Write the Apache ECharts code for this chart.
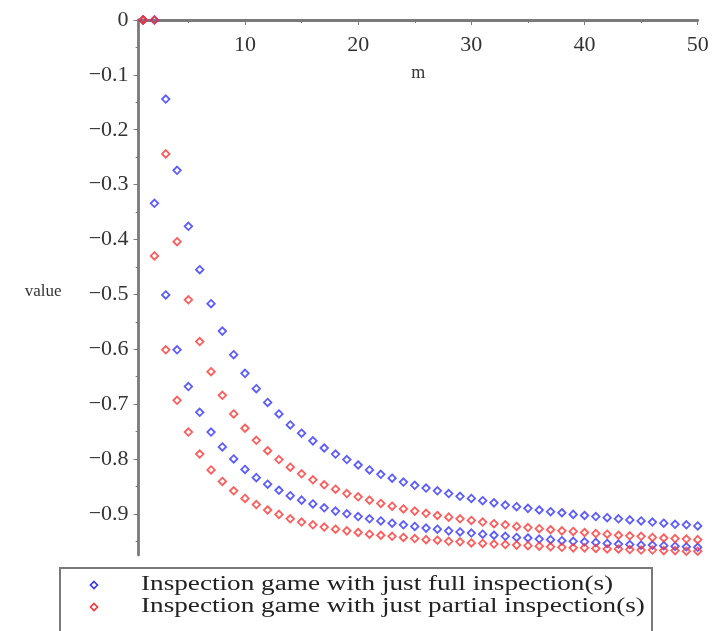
<!DOCTYPE html>
<html><head><meta charset="utf-8">
<script src="https://cdn.jsdelivr.net/npm/echarts@6/dist/echarts.min.js"></script>
<style>html,body{margin:0;padding:0;background:#fff}#c{width:714px;height:631px}</style>
</head><body><div id="c"></div>
<script>
const mValues = [1,2,3,4,5,6,7,8,9,10,11,12,13,14,15,16,17,18,19,20,21,22,23,24,25,26,27,28,29,30,31,32,33,34,35,36,37,38,39,40,41,42,43,44,45,46,47,48,49,50];
const blueUpper = [0,0,-0.144,-0.274,-0.376,-0.455,-0.517,-0.567,-0.610,-0.644,-0.672,-0.697,-0.718,-0.738,-0.753,-0.767,-0.780,-0.791,-0.801,-0.811,-0.820,-0.828,-0.835,-0.842,-0.848,-0.853,-0.858,-0.863,-0.868,-0.872,-0.876,-0.880,-0.884,-0.887,-0.890,-0.893,-0.896,-0.898,-0.901,-0.903,-0.905,-0.907,-0.909,-0.911,-0.913,-0.915,-0.917,-0.919,-0.920,-0.922];
const blueLower = [0,-0.334,-0.501,-0.601,-0.668,-0.715,-0.751,-0.778,-0.800,-0.819,-0.834,-0.846,-0.857,-0.867,-0.875,-0.882,-0.889,-0.895,-0.900,-0.905,-0.909,-0.913,-0.917,-0.920,-0.923,-0.926,-0.928,-0.931,-0.933,-0.935,-0.937,-0.939,-0.941,-0.943,-0.944,-0.946,-0.947,-0.949,-0.950,-0.951,-0.952,-0.954,-0.955,-0.956,-0.957,-0.957,-0.958,-0.959,-0.960,-0.961];
const redUpper = [0,0,-0.244,-0.404,-0.510,-0.586,-0.641,-0.684,-0.718,-0.744,-0.766,-0.785,-0.801,-0.815,-0.827,-0.838,-0.847,-0.855,-0.863,-0.869,-0.875,-0.881,-0.886,-0.891,-0.895,-0.899,-0.903,-0.906,-0.909,-0.912,-0.915,-0.918,-0.920,-0.923,-0.925,-0.927,-0.929,-0.931,-0.932,-0.934,-0.936,-0.937,-0.939,-0.940,-0.941,-0.943,-0.944,-0.945,-0.946,-0.947];
const redLower = [0,-0.430,-0.601,-0.693,-0.751,-0.791,-0.820,-0.841,-0.858,-0.872,-0.883,-0.893,-0.901,-0.909,-0.915,-0.920,-0.924,-0.928,-0.931,-0.934,-0.937,-0.939,-0.941,-0.943,-0.945,-0.947,-0.948,-0.950,-0.951,-0.953,-0.954,-0.955,-0.956,-0.957,-0.958,-0.959,-0.960,-0.961,-0.962,-0.962,-0.963,-0.964,-0.964,-0.965,-0.966,-0.966,-0.967,-0.967,-0.968,-0.968];
const xTicks = [10,20,30,40,50];
const xMinorTicks = [5,15,25,35,45];
const yTicks = [0,-0.1,-0.2,-0.3,-0.4,-0.5,-0.6,-0.7,-0.8,-0.9];
const yMinorTicks = [-0.05,-0.15,-0.25,-0.35,-0.45,-0.55,-0.65,-0.75,-0.85,-0.95];
const seriesNames = ['Inspection game with just full inspection(s)','Inspection game with just partial inspection(s)'];
const colors = ['#3333ff','#ff3333'];

const FONT = 'Liberation Serif';
const AX = '#7a7a7a';
const chart = echarts.init(document.getElementById('c'), null, {renderer:'canvas'});
function pts(ys){ return mValues.map((m,i)=>[m, ys[i]]); }
function sc(name, ys, color){
  return {type:'scatter', name, data:pts(ys), symbol:'diamond', symbolSize:7.5, clip:false,
    itemStyle:{color:'rgba(255,255,255,0)', borderColor:color, borderWidth:1.8},
    emphasis:{disabled:true}, z:3};
}
function fmtY(v){ return v===0 ? '0' : '\u2212' + Math.abs(v).toFixed(1); }
chart.setOption({
  animation:false,
  backgroundColor:'#fff',
  grid:{left:138.6, right:16.3, top:20, bottom:76, containLabel:false, outerBoundsMode:'none'},
  xAxis:[{
    type:'value', position:'top', min:0.6, max:50,
    axisLine:{show:true, onZero:false, lineStyle:{color:AX, width:2.8}},
    axisTick:{show:true, inside:true, length:5, customValues:xTicks, lineStyle:{color:AX, width:1}},
    axisLabel:{show:true, inside:true, margin:14, customValues:xTicks, fontFamily:FONT, fontSize:22, color:'#333'},
    splitLine:{show:false},
    name:'m', nameLocation:'middle', nameGap:-62, nameTextStyle:{fontFamily:FONT, fontSize:18, color:'#333'}
  },{
    type:'value', position:'top', min:0.6, max:50,
    axisLine:{show:false, onZero:false},
    axisTick:{show:true, inside:true, length:3, customValues:xMinorTicks, lineStyle:{color:AX, width:1}},
    axisLabel:{show:false}, splitLine:{show:false}
  }],
  yAxis:[{
    type:'value', position:'left', min:-0.975, max:0,
    axisLine:{show:true, onZero:false, lineStyle:{color:AX, width:2.8}},
    axisTick:{show:true, inside:false, length:5, customValues:yTicks, lineStyle:{color:AX, width:1}},
    axisLabel:{show:true, margin:10, customValues:yTicks, formatter:fmtY, fontFamily:FONT, fontSize:22, color:'#333'},
    splitLine:{show:false},
    name:'value', nameLocation:'middle', nameRotate:0, nameGap:77, nameTextStyle:{fontFamily:FONT, fontSize:17, color:'#333', verticalAlign:'top', lineHeight:9}
  },{
    type:'value', position:'left', min:-0.975, max:0,
    axisLine:{show:false, onZero:false},
    axisTick:{show:true, inside:false, length:3, customValues:yMinorTicks, lineStyle:{color:AX, width:1}},
    axisLabel:{show:false}, splitLine:{show:false}
  }],
  series:[
    sc(seriesNames[0], blueUpper, colors[0]),
    sc(seriesNames[0], blueLower, colors[0]),
    sc(seriesNames[1], redUpper, colors[1]),
    sc(seriesNames[1], redLower, colors[1])
  ],
  graphic:[
    {type:'rect', shape:{x:60, y:568, width:592, height:80}, style:{fill:'none', stroke:AX, lineWidth:2}},
    {type:'polygon', shape:{points:[[94,581.5],[97.5,585],[94,588.5],[90.5,585]]}, style:{fill:'none', stroke:colors[0], lineWidth:1.6}},
    {type:'polygon', shape:{points:[[94,603.5],[97.5,607],[94,610.5],[90.5,607]]}, style:{fill:'none', stroke:colors[1], lineWidth:1.6}},
    {type:'text', x:141, y:585, scaleX:1.36, style:{text:seriesNames[0], x:0, y:0, verticalAlign:'middle', fontFamily:FONT, fontSize:20, fill:'#222'}},
    {type:'text', x:141, y:607, scaleX:1.36, style:{text:seriesNames[1], x:0, y:0, verticalAlign:'middle', fontFamily:FONT, fontSize:20, fill:'#222'}}
  ]
});
</script></body></html>
